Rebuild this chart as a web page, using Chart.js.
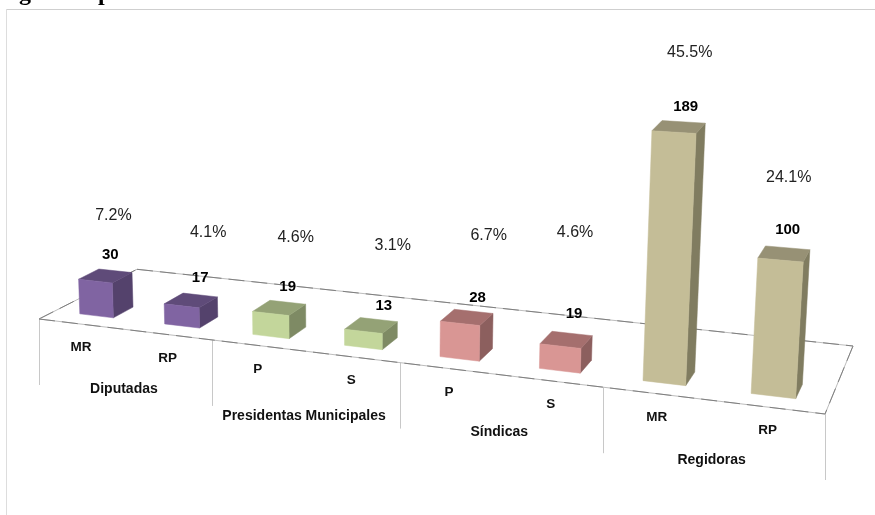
<!DOCTYPE html>
<html><head><meta charset="utf-8">
<style>html,body{margin:0;padding:0;background:#fff}canvas{display:block}</style>
<script src="https://cdn.jsdelivr.net/npm/chart.js@4/dist/chart.umd.min.js"></script>
</head><body><canvas id="c" width="875" height="515"></canvas>
<script>
// ---- data ----
const categories = ['MR','RP','P','S','P','S','MR','RP'];
const groups = ['Diputadas','Presidentas Municipales','Síndicas','Regidoras'];
const values = [30,17,19,13,28,19,189,100];
const percents = ['7.2%','4.1%','4.6%','3.1%','6.7%','4.6%','45.5%','24.1%'];
const frontColors = ['#8064A2','#8064A2','#C3D69B','#C3D69B','#D99694','#D99694','#C4BD97','#C4BD97'];
const topColors   = ['#5F4B79','#5F4B79','#94A276','#94A276','#A56F6E','#A56F6E','#979175','#979175'];
const sideColors  = ['#54426C','#54426C','#7E8A64','#7E8A64','#8C5F5E','#8C5F5E','#807C60','#807C60'];

// ---- layout of the perspective floor ----
const FL = {p00:[39,319],p10:[825,414],p11:[853,346],p01:[137,269.3]};
const VP = [360,8300];
const D0 = 0.15, D1 = 0.35;
const groupOffsets = [59.5,65.5,57.5,59.5];
const valueDX = [-5,0,0,5,4,2,2,0], valueDY = [-15,-17,-15,-14,-13,-19,-11,-16];
const pctDX = [3,8,8,9,11,1,4,1], pctDY = [-40,-45,-49,-60,-62,-82,-55,-52];

function makeHom(f){
  const [x0,y0]=f.p00,[x1,y1]=f.p10,[x2,y2]=f.p11,[x3,y3]=f.p01;
  const dx1=x1-x2,dx2=x3-x2,dy1=y1-y2,dy2=y3-y2,sx=x0-x1+x2-x3,sy=y0-y1+y2-y3;
  const den=dx1*dy2-dx2*dy1;
  const g=(sx*dy2-dx2*sy)/den,h=(dx1*sy-sx*dy1)/den;
  const a=x1-x0+g*x1,b=x3-x0+h*x3,d=y1-y0+g*y1,e=y3-y0+h*y3;
  return (u,v)=>{const w=g*u+h*v+1;return [(a*u+b*v+x0)/w,(d*u+e*v+y0)/w];};
}
const hom = makeHom(FL);
function lift(P,hpx,far){
  const dx=P[0]-VP[0],dy=P[1]-VP[1],L=Math.hypot(dx,dy);
  const s=hpx*(1.13+0.0003*P[0])/1.3*(far?0.985:1);
  return [P[0]+dx/L*s,P[1]+dy/L*s];
}
function poly(ctx,pts,fill){
  ctx.beginPath();pts.forEach((p,i)=>i?ctx.lineTo(p[0],p[1]):ctx.moveTo(p[0],p[1]));ctx.closePath();
  ctx.fillStyle=fill;ctx.fill();ctx.strokeStyle=fill;ctx.lineWidth=0.5;ctx.stroke();
}
function edge(ctx,a,b){
  ctx.beginPath();ctx.moveTo(a[0],a[1]);ctx.lineTo(b[0],b[1]);
  ctx.setLineDash([]);ctx.lineWidth=1;ctx.strokeStyle='#BDBDBD';ctx.stroke();
  ctx.setLineDash([16,7]);ctx.strokeStyle='#7F7F7F';ctx.stroke();ctx.setLineDash([]);
}
function text(ctx,s,x,y,font,color){
  ctx.font=font;ctx.fillStyle=color||'#111';ctx.textAlign='center';ctx.textBaseline='middle';ctx.fillText(s,x,y);
}
const F='"Liberation Sans",Arial,sans-serif';

const scene = {
  id:'scene',
  beforeDatasetsDraw(chart){
    const ctx=chart.ctx;ctx.save();
    // page frame and clipped heading
    ctx.fillStyle='#fff';ctx.fillRect(0,0,875,515);
    ctx.fillStyle='#CFCFCF';ctx.fillRect(6,9,869,1);ctx.fillStyle='#DDDDDD';ctx.fillRect(6,9,1,506);
    ctx.font='bold 24px "Liberation Serif",serif';ctx.fillStyle='#000';ctx.textAlign='left';ctx.textBaseline='alphabetic';
    ctx.fillText('g',19,0);ctx.fillText('p',98,0);
    // drop lines between groups
    ctx.strokeStyle='#C8C8C8';ctx.lineWidth=1;
    for(let i=0;i<=4;i++){const p=hom(i/4,0);ctx.beginPath();ctx.moveTo(Math.round(p[0])+.5,p[1]);ctx.lineTo(Math.round(p[0])+.5,p[1]+66);ctx.stroke();}
    // floor
    edge(ctx,FL.p00,FL.p01);edge(ctx,FL.p01,FL.p11);edge(ctx,FL.p11,FL.p10);edge(ctx,FL.p00,FL.p10);
    ctx.restore();
  },
  beforeDatasetDraw(chart,args){
    const ctx=chart.ctx,area=chart.chartArea,W=area.right-area.left;
    const meta=args.meta;
    ctx.save();
    meta.data.forEach((bar,i)=>{
      const u0=(bar.x-bar.width/2-area.left)/W,u1=(bar.x+bar.width/2-area.left)/W;
      const h=bar.base-bar.y;
      const A=hom(u0,D0),B=hom(u1,D0),C=hom(u1,D1),D=hom(u0,D1);
      const At=lift(A,h),Bt=lift(B,h),Ct=lift(C,h,true),Dt=lift(D,h,true);
      poly(ctx,[B,C,Ct,Bt],sideColors[i]);
      poly(ctx,[At,Bt,Ct,Dt],topColors[i]);
      poly(ctx,[A,B,Bt,At],frontColors[i]);
    });
    ctx.restore();
    return false;
  },
  afterDatasetsDraw(chart){
    const ctx=chart.ctx,area=chart.chartArea,W=area.right-area.left;
    const meta=chart.getDatasetMeta(0);
    ctx.save();
    meta.data.forEach((bar,i)=>{
      const uc=(bar.x-area.left)/W,h=bar.base-bar.y;
      const back=lift(hom(uc,D1),h);
      const vx=back[0]+valueDX[i], vy=back[1]+valueDY[i];
      text(ctx,String(values[i]),vx,vy,'bold 15px '+F,'#000');
      text(ctx,percents[i],vx+pctDX[i],vy+pctDY[i],'16px '+F,'#222');
      const f=hom(uc,0);
      text(ctx,categories[i],f[0],f[1]+23.5,'bold 13.5px '+F,'#111');
    });
    groups.forEach((g,i)=>{
      const f=hom((i+.5)/4,0);
      text(ctx,g,f[0],f[1]+groupOffsets[i],'bold 14px '+F,'#111');
    });
    ctx.restore();
  }
};

new Chart(document.getElementById('c'),{
  type:'bar',
  data:{labels:categories,datasets:[{label:'Mujeres',data:values,backgroundColor:frontColors,categoryPercentage:1,barPercentage:0.4}]},
  options:{
    responsive:false,animation:false,
    layout:{padding:{left:39,right:50,top:0,bottom:255}},
    plugins:{legend:{display:false},tooltip:{enabled:false},title:{display:false}},
    scales:{
      x:{display:false,offset:true,grid:{display:false}},
      y:{display:false,min:0,max:200,grid:{display:false}}
    }
  },
  plugins:[scene]
});
</script></body></html>
